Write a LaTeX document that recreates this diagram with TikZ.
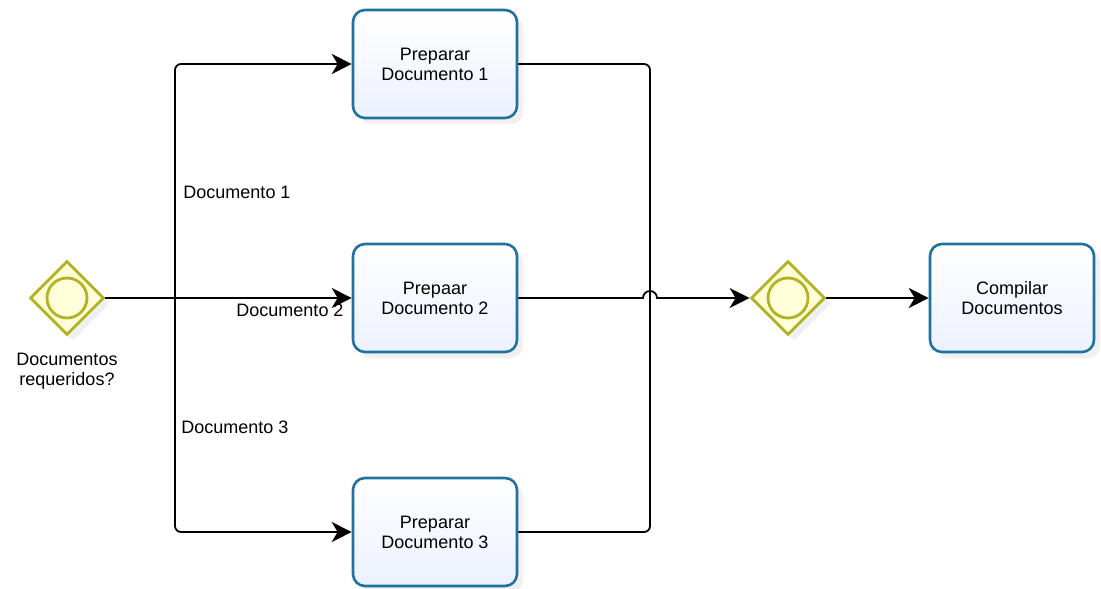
\documentclass[tikz,border=0pt]{standalone}
\usepackage{fontspec}
\setmainfont{Liberation Sans}
\usetikzlibrary{shapes.geometric}
\usetikzlibrary{arrows.meta, positioning, shadows}

\definecolor{bordaTarefa}{RGB}{32,112,160}
\definecolor{fundoTarefa}{RGB}{236,241,255}
\definecolor{oliva}{RGB}{178,178,34}
\definecolor{amarelo}{RGB}{255,255,218}

\tikzset{
  tarefa/.style={draw=bordaTarefa, line width=1.3pt, rounded corners=6pt,
    top color=white, bottom color=fundoTarefa,
    minimum width=82pt, minimum height=54pt, align=center,
    font=\fontsize{9}{10}\selectfont,
    drop shadow={opacity=0.12, shadow xshift=3pt, shadow yshift=-3pt}},
  porta/.style={diamond, draw=oliva, line width=1.4pt, fill=amarelo,
    minimum size=37pt, inner sep=0pt, aspect=1,
    drop shadow={opacity=0.12, shadow xshift=3pt, shadow yshift=-3pt}},
  anel/.style={circle, draw=oliva, line width=1.4pt, fill=amarelo,
    minimum size=20pt, inner sep=0pt},
  linha/.style={line width=0.9pt, rounded corners=3pt},
  fluxo/.style={linha, -{Stealth[length=10pt, width=10pt, inset=3pt]}},
  rotulo/.style={font=\fontsize{9}{10}\selectfont, align=center}
}

\begin{document}
\begin{tikzpicture}[x=0.5pt, y=-0.5pt]

  \useasboundingbox (0, 0) rectangle (1101, 588);

  % gateways
  \node[porta] (gwsplit) at (67, 298) {};
  \node[anel] (anelsplit) at (gwsplit) {};
  \node[rotulo, below=5pt of gwsplit] (pergunta) {Documentos\\requeridos?};

  \node[porta] (gwjoin) at (788, 298) {};
  \node[anel] (aneljoin) at (gwjoin) {};

  % tasks
  \node[tarefa] (prep1) at (435, 64) {Preparar\\Documento 1};
  \node[tarefa] (prep2) at (435, 298) {Prepaar\\Documento 2};
  \node[tarefa] (prep3) at (435, 532) {Preparar\\Documento 3};
  \node[tarefa] (compilar) at (1012, 298) {Compilar\\Documentos};

  \coordinate (ramo) at (175, 298);
  \coordinate (junta) at (650, 298);

  % split
  \draw[fluxo] (gwsplit.east) -- (prep2.west);
  \draw[fluxo] (ramo) |- (prep1.west);
  \draw[fluxo] (ramo) |- (prep3.west);

  % join
  \draw[linha] (prep1.east) -| (junta);
  \draw[linha] (prep3.east) -| (junta);
  \draw[fluxo, sharp corners] (prep2.east) -- ([xshift=-3.5pt]junta)
    arc[start angle=180, end angle=0, radius=3.5pt] -- (gwjoin.west);

  \draw[fluxo] (gwjoin.east) -- (compilar.west);

  % labels
  \node[rotulo] (rot1) at (237, 192) {Documento 1};
  \node[rotulo] (rot2) at (290, 310) {Documento 2};
  \node[rotulo] (rot3) at (235, 427) {Documento 3};

\end{tikzpicture}
\end{document}
